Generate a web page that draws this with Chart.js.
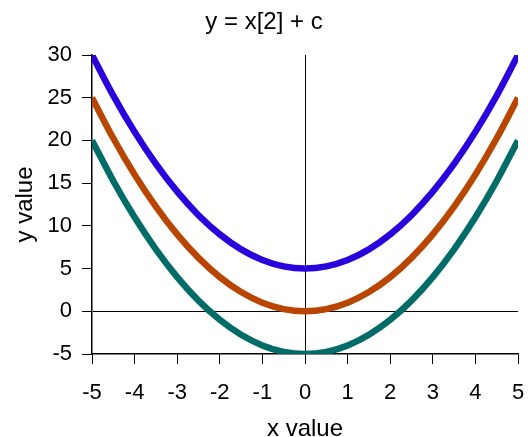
<!DOCTYPE html>
<html>
<head>
<meta charset="utf-8">
<script src="https://cdn.jsdelivr.net/npm/chart.js@4"></script>
<style>
  html, body { margin: 0; padding: 0; background: #fff; }
  #wrap { width: 528px; height: 437px; }
</style>
</head>
<body>
<div id="wrap"><canvas id="chart1"></canvas></div>
<script>
// x positions
const xValues = [-5, -4.5, -4, -3.5, -3, -2.5, -2, -1.5, -1, -0.5, 0, 0.5, 1, 1.5, 2, 2.5, 3, 3.5, 4, 4.5, 5];
// c = 5
const plusFive = [30, 25.25, 21, 17.25, 14, 11.25, 9, 7.25, 6, 5.25, 5, 5.25, 6, 7.25, 9, 11.25, 14, 17.25, 21, 25.25, 30];
// c = 0
const plusZero = [25, 20.25, 16, 12.25, 9, 6.25, 4, 2.25, 1, 0.25, 0, 0.25, 1, 2.25, 4, 6.25, 9, 12.25, 16, 20.25, 25];
// c = -5
const minusFive = [20, 15.25, 11, 7.25, 4, 1.25, -1, -2.75, -4, -4.75, -5, -4.75, -4, -2.75, -1, 1.25, 4, 7.25, 11, 15.25, 20];

const seriesNames = ['c = 5', 'c = 0', 'c = -5'];
const seriesColors = ['#2a00dc', '#b94600', '#006c67'];
const xTicks = { min: -5, max: 5, step: 1 };
const yTicks = { min: -5, max: 30, step: 5 };

const fontFamily = "Arial, 'Liberation Sans', Helvetica, sans-serif";

function toPoints(ys) {
    const pts = [];
    for (let i = 0; i < xValues.length; i++) {
        pts.push({ x: xValues[i], y: ys[i] });
    }
    return pts;
}

// only the zero lines are drawn across the plot
function zeroLine(ctx) {
    return ctx.tick && ctx.tick.value === 0 ? '#000' : 'rgba(0,0,0,0)';
}

const allSeries = [plusFive, plusZero, minusFive];
const datasets = allSeries.map((ys, i) => ({
    label: seriesNames[i],
    data: toPoints(ys),
    borderColor: seriesColors[i],
    backgroundColor: seriesColors[i],
    borderWidth: 6.5,
    pointRadius: 0,
    showLine: true,
    fill: false,
    cubicInterpolationMode: 'monotone',
    borderCapStyle: 'butt'
}));

new Chart(document.getElementById('chart1'), {
    type: 'scatter',
    data: { datasets: datasets },
    options: {
        responsive: true,
        maintainAspectRatio: false,
        animation: false,
        layout: { padding: { left: 0, right: 0, top: 0, bottom: 0 } },
        plugins: {
            legend: { display: false },
            tooltip: { enabled: false },
            title: {
                display: true,
                text: 'y = x[2] + c',
                color: '#000',
                font: { family: fontFamily, size: 24, weight: 'normal', lineHeight: 1.2 },
                padding: { top: 8, bottom: 18.2 }
            }
        },
        scales: {
            x: {
                type: 'linear',
                min: xTicks.min,
                max: xTicks.max,
                afterFit: scale => {
                    scale.height = 83;
                    scale.paddingLeft = 0;
                    scale.paddingRight = 10;
                },
                border: { display: true, color: '#000', width: 1.5 },
                grid: {
                    color: zeroLine,
                    tickColor: '#000',
                    tickLength: 10,
                    lineWidth: 1
                },
                ticks: {
                    stepSize: xTicks.step,
                    color: '#000',
                    padding: 16,
                    maxRotation: 0,
                    font: { family: fontFamily, size: 22 }
                },
                title: {
                    display: true,
                    text: 'x value',
                    color: '#000',
                    font: { family: fontFamily, size: 24, lineHeight: 1 },
                    padding: { top: 0, bottom: -4 }
                }
            },
            y: {
                type: 'linear',
                min: yTicks.min,
                max: yTicks.max,
                afterFit: scale => { scale.width = 92; },
                border: { display: true, color: '#000', width: 1.5 },
                grid: {
                    color: zeroLine,
                    tickColor: '#000',
                    tickLength: 10,
                    lineWidth: 1
                },
                ticks: {
                    stepSize: yTicks.step,
                    color: '#000',
                    padding: 10,
                    font: { family: fontFamily, size: 22 }
                },
                title: {
                    display: true,
                    text: 'y value',
                    color: '#000',
                    font: { family: fontFamily, size: 24, lineHeight: 1 },
                    padding: { top: 13, bottom: 0 }
                }
            }
        }
    }
});
</script>
</body>
</html>
